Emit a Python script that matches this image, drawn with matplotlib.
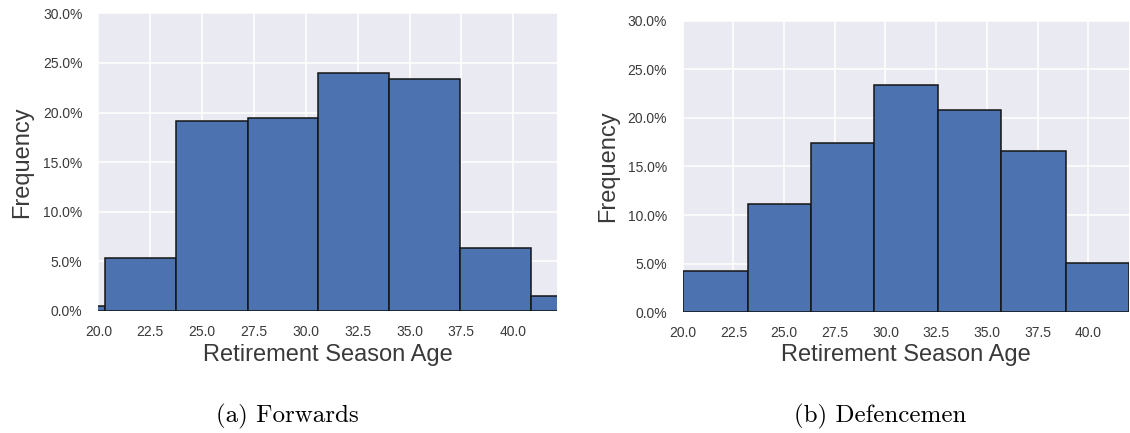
import numpy as np
import matplotlib
matplotlib.use('Agg')
import matplotlib.pyplot as plt
from matplotlib.ticker import FuncFormatter, MultipleLocator

# Forwards: bin edges (age) and share of players per bin
fwd_edges = [16.91, 20.33, 23.75, 27.2, 30.6, 34.02, 37.44, 40.86, 44.28]
fwd_freq = [0.005, 0.0537, 0.191, 0.194, 0.240, 0.234, 0.0635, 0.015]

# Defencemen
def_edges = [20.0, 23.2, 26.33, 29.45, 32.58, 35.71, 38.9, 42.0]
def_freq = [0.0425, 0.1118, 0.174, 0.234, 0.208, 0.166, 0.0507]

captions = ['(a) Forwards', '(b) Defencemen']

BAR = '#4C72B0'
BG = '#EAEAF2'
TXT = '#3a3a3a'

plt.rcParams['font.family'] = ['Liberation Sans', 'DejaVu Sans']

fig = plt.figure(figsize=(11.3, 4.33), dpi=100)
ax1 = fig.add_axes([0.0871, 0.2818, 0.4056, 0.6875])
ax2 = fig.add_axes([0.6042, 0.2788, 0.3947, 0.6734])


def draw_hist(ax, edges, freq, xlim):
    edges = np.asarray(edges)
    ax.set_facecolor(BG)
    ax.bar(edges[:-1], freq, width=np.diff(edges), align='edge',
           color=BAR, edgecolor='#151515', linewidth=1.1, zorder=2)
    ax.set_xlim(*xlim)
    ax.set_ylim(0, 0.30)
    ax.xaxis.set_major_locator(MultipleLocator(2.5))
    ax.yaxis.set_major_locator(MultipleLocator(0.05))
    ax.yaxis.set_major_formatter(FuncFormatter(lambda v, p: f'{v * 100:.1f}%'))
    ax.grid(True, color='white', linewidth=1.1, zorder=0)
    ax.set_axisbelow(True)
    for s in ax.spines.values():
        s.set_visible(False)
    ax.tick_params(axis='both', length=0, labelsize=10, labelcolor=TXT)
    ax.tick_params(axis='x', pad=10)
    ax.tick_params(axis='y', pad=11.5)
    ax.set_xlabel('Retirement Season Age', fontsize=17, color=TXT)
    ax.set_ylabel('Frequency', fontsize=17, color=TXT)
    ax.yaxis.set_label_coords(-0.143, 0.5)
    ax.xaxis.set_label_coords(0.5, -0.11)


draw_hist(ax1, fwd_edges, fwd_freq, (20, 42.1))
draw_hist(ax2, def_edges, def_freq, (20, 42.0))

fig.text(0.2544, 0.0254, captions[0], ha='center', va='baseline',
         fontsize=18, family=['cmr10', 'DejaVu Serif'], color='black')
fig.text(0.7788, 0.0254, captions[1], ha='center', va='baseline',
         fontsize=18, family=['cmr10', 'DejaVu Serif'], color='black')

fig.savefig('out.png', dpi=100)
